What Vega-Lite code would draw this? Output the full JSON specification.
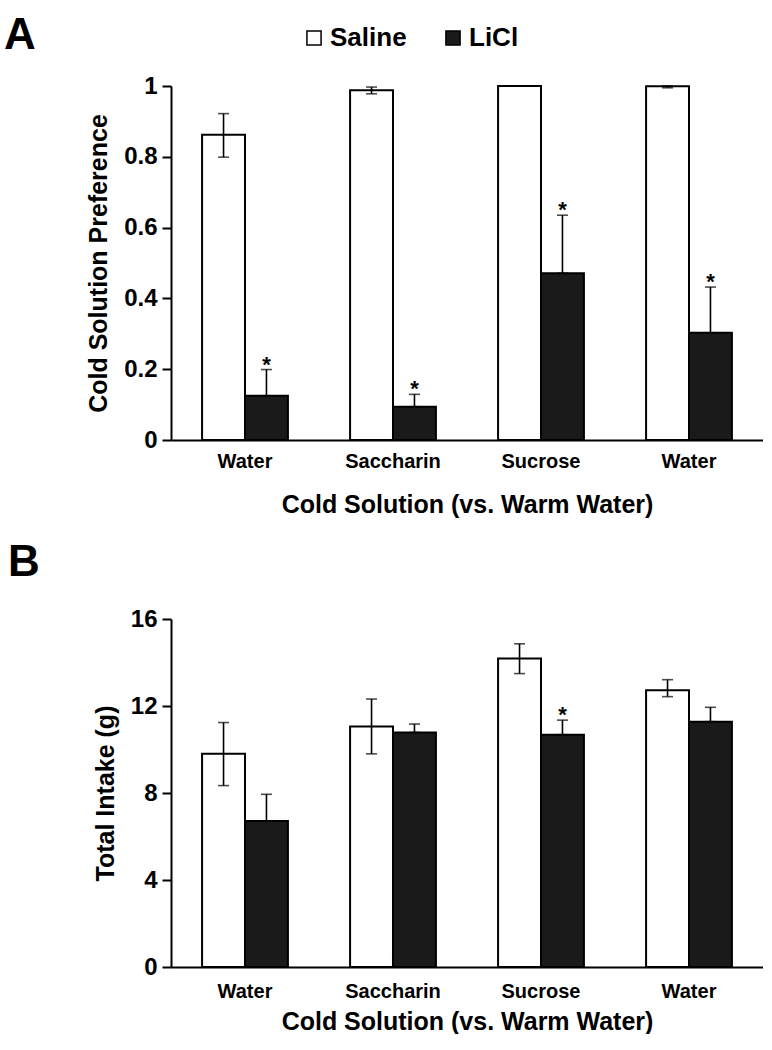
{
  "$schema": "https://vega.github.io/schema/vega-lite/v6.json",
  "padding": {"left": 4, "top": 14, "right": 0, "bottom": 0},
  "background": "white",
  "config": {
    "view": {"stroke": null},
    "font": "Liberation Sans",
    "axis": {
      "domainColor": "black", "domainWidth": 2, "tickColor": "black", "tickWidth": 2,
      "labelColor": "black", "titleColor": "black", "labelFontWeight": "bold", "titleFontWeight": "bold",
      "grid": false, "titleFontSize": 25
    },
    "axisY": {"tickSize": 9, "labelFontSize": 24, "labelPadding": 5, "titlePadding": 12},
    "axisX": {"ticks": false, "tickSize": 0, "labelFontSize": 20, "labelPadding": 11, "titlePadding": 21, "labelAngle": 0}
  },
  "datasets": {
    "pref": [
      {"cold": "Water_1", "group": "Saline", "value": 0.862, "lo": 0.799, "hi": 0.922, "sig": ""},
      {"cold": "Water_1", "group": "LiCl", "value": 0.125, "lo": 0.125, "hi": 0.199, "sig": "*"},
      {"cold": "Saccharin", "group": "Saline", "value": 0.988, "lo": 0.978, "hi": 0.997, "sig": ""},
      {"cold": "Saccharin", "group": "LiCl", "value": 0.094, "lo": 0.094, "hi": 0.129, "sig": "*"},
      {"cold": "Sucrose", "group": "Saline", "value": 1.0, "lo": 1.0, "hi": 1.0, "sig": ""},
      {"cold": "Sucrose", "group": "LiCl", "value": 0.471, "lo": 0.471, "hi": 0.635, "sig": "*"},
      {"cold": "Water_2", "group": "Saline", "value": 0.999, "lo": 0.995, "hi": 1.0, "sig": ""},
      {"cold": "Water_2", "group": "LiCl", "value": 0.303, "lo": 0.303, "hi": 0.432, "sig": "*"}
    ],
    "intake": [
      {"cold": "Water_1", "group": "Saline", "value": 9.8, "lo": 8.34, "hi": 11.24, "sig": ""},
      {"cold": "Water_1", "group": "LiCl", "value": 6.71, "lo": 6.71, "hi": 7.94, "sig": ""},
      {"cold": "Saccharin", "group": "Saline", "value": 11.06, "lo": 9.8, "hi": 12.32, "sig": ""},
      {"cold": "Saccharin", "group": "LiCl", "value": 10.78, "lo": 10.78, "hi": 11.17, "sig": ""},
      {"cold": "Sucrose", "group": "Saline", "value": 14.18, "lo": 13.49, "hi": 14.86, "sig": ""},
      {"cold": "Sucrose", "group": "LiCl", "value": 10.68, "lo": 10.68, "hi": 11.35, "sig": "*"},
      {"cold": "Water_2", "group": "Saline", "value": 12.72, "lo": 12.43, "hi": 13.21, "sig": ""},
      {"cold": "Water_2", "group": "LiCl", "value": 11.28, "lo": 11.28, "hi": 11.94, "sig": ""}
    ]
  },
  "spacing": 24,
  "resolve": {"scale": {"fill": "independent", "x": "independent", "y": "independent"}, "legend": {"fill": "independent"}},
  "vconcat": [
    {
      "title": {"text": "A", "anchor": "start", "frame": "group", "fontSize": 44, "fontWeight": "bold", "color": "black", "dx": -167, "offset": -33},
      "width": 592, "height": 354,
      "data": {"name": "pref"},
      "encoding": {
        "x": {"field": "cold", "type": "nominal", "sort": ["Water_1", "Saccharin", "Sucrose", "Water_2"],
              "scale": {"paddingInner": 0.42, "paddingOuter": 0.21},
              "axis": {"title": "Cold Solution (vs. Warm Water)", "labelExpr": "split(datum.label, '_')[0]"}},
        "xOffset": {"field": "group", "type": "nominal", "sort": ["Saline", "LiCl"], "scale": {"paddingInner": 0, "paddingOuter": 0}}
      },
      "layer": [
        {"mark": {"type": "bar", "stroke": "black", "strokeWidth": 2},
         "encoding": {
           "y": {"field": "value", "type": "quantitative", "scale": {"domain": [0, 1]},
                 "axis": {"title": "Cold Solution Preference", "values": [0, 0.2, 0.4, 0.6, 0.8, 1], "format": "~g"}},
           "fill": {"field": "group", "type": "nominal", "scale": {"domain": ["Saline", "LiCl"], "range": ["white", "#1a1a1a"]},
                    "legend": {"orient": "none", "legendX": 130, "legendY": -61, "direction": "horizontal", "title": null,
                               "symbolType": "square", "symbolSize": 200, "symbolStrokeColor": "black", "symbolStrokeWidth": 1.5,
                               "labelFontSize": 26, "labelFontWeight": "bold", "labelColor": "black", "labelOffset": 3, "columnPadding": 33}}
         }},
        {"mark": {"type": "rule", "strokeWidth": 1.6, "color": "black"},
         "encoding": {"y": {"field": "lo", "type": "quantitative", "title": "Cold Solution Preference"}, "y2": {"field": "hi"}}},
        {"mark": {"type": "tick", "orient": "horizontal", "size": 11, "thickness": 1.6, "color": "black"},
         "encoding": {"y": {"field": "hi", "type": "quantitative", "title": "Cold Solution Preference"}}},
        {"mark": {"type": "tick", "orient": "horizontal", "size": 11, "thickness": 1.6, "color": "black"},
         "encoding": {"y": {"field": "lo", "type": "quantitative", "title": "Cold Solution Preference"}}},
        {"mark": {"type": "text", "fontSize": 22, "fontWeight": "bold", "baseline": "alphabetic", "dy": 2, "color": "black"},
         "encoding": {"y": {"field": "hi", "type": "quantitative", "title": "Cold Solution Preference"}, "text": {"field": "sig"}}}
      ]
    },
    {
      "title": {"text": "B", "anchor": "start", "frame": "group", "fontSize": 44, "fontWeight": "bold", "color": "black", "dx": -163, "offset": 22},
      "width": 592, "height": 348,
      "data": {"name": "intake"},
      "encoding": {
        "x": {"field": "cold", "type": "nominal", "sort": ["Water_1", "Saccharin", "Sucrose", "Water_2"],
              "scale": {"paddingInner": 0.42, "paddingOuter": 0.21},
              "axis": {"title": "Cold Solution (vs. Warm Water)", "labelExpr": "split(datum.label, '_')[0]", "labelPadding": 14, "titlePadding": 8}},
        "xOffset": {"field": "group", "type": "nominal", "sort": ["Saline", "LiCl"], "scale": {"paddingInner": 0, "paddingOuter": 0}}
      },
      "layer": [
        {"mark": {"type": "bar", "stroke": "black", "strokeWidth": 2},
         "encoding": {
           "y": {"field": "value", "type": "quantitative", "scale": {"domain": [0, 16]},
                 "axis": {"title": "Total Intake (g)", "values": [0, 4, 8, 12, 16]}},
           "fill": {"field": "group", "type": "nominal", "scale": {"domain": ["Saline", "LiCl"], "range": ["white", "#1a1a1a"]}, "legend": null}
         }},
        {"mark": {"type": "rule", "strokeWidth": 1.6, "color": "black"},
         "encoding": {"y": {"field": "lo", "type": "quantitative", "title": "Total Intake (g)"}, "y2": {"field": "hi"}}},
        {"mark": {"type": "tick", "orient": "horizontal", "size": 11, "thickness": 1.6, "color": "black"},
         "encoding": {"y": {"field": "hi", "type": "quantitative", "title": "Total Intake (g)"}}},
        {"mark": {"type": "tick", "orient": "horizontal", "size": 11, "thickness": 1.6, "color": "black"},
         "encoding": {"y": {"field": "lo", "type": "quantitative", "title": "Total Intake (g)"}}},
        {"mark": {"type": "text", "fontSize": 22, "fontWeight": "bold", "baseline": "alphabetic", "dy": 2, "color": "black"},
         "encoding": {"y": {"field": "hi", "type": "quantitative", "title": "Total Intake (g)"}, "text": {"field": "sig"}}}
      ]
    }
  ]
}
